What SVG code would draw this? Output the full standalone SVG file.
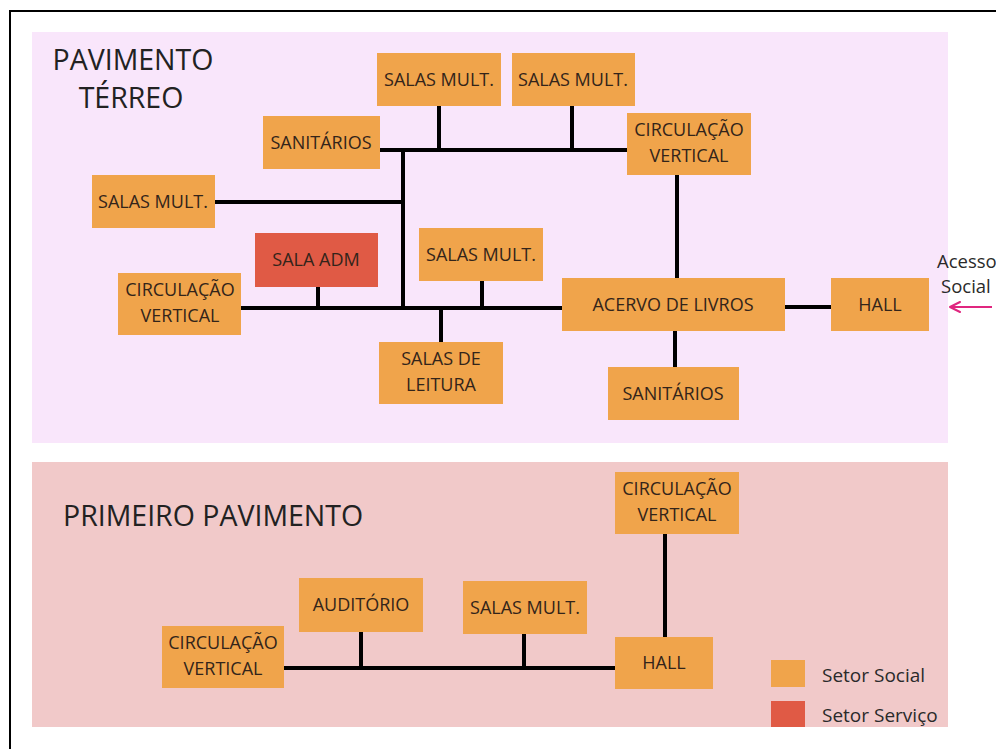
<svg xmlns="http://www.w3.org/2000/svg" width="996" height="749" viewBox="0 0 996 749">
<defs>
<style>
.n rect{fill:#F0A44B;}
.n.s rect{fill:#E05A45;}
.n text,.lbl{font-family:"Open Sans","Noto Sans","DejaVu Sans",sans-serif;font-size:18px;fill:#33241a;text-anchor:middle;}
.title{font-family:"Open Sans","Noto Sans","DejaVu Sans",sans-serif;font-size:28.5px;fill:#222;}
.leg{font-family:"Open Sans","Noto Sans","DejaVu Sans",sans-serif;font-size:19px;fill:#2a2a2a;}
.c line{stroke:#000;stroke-width:4;}
</style>
<marker id="ah" viewBox="0 0 12 12" refX="11" refY="6" markerWidth="12" markerHeight="12" markerUnits="userSpaceOnUse" orient="auto">
<path d="M1,1 L11,6 L1,11" fill="none" stroke="#E0267F" stroke-width="2" stroke-linecap="round" stroke-linejoin="round"/>
</marker>
</defs>
<rect x="0" y="0" width="996" height="749" fill="#fff"/>
<path d="M10,749 V11 H996" fill="none" stroke="#000" stroke-width="2"/>
<rect x="32" y="32" width="916" height="411" fill="#F9E6FB"/>
<rect x="32" y="462" width="916" height="265" fill="#F1C9C9"/>
<text class="title" x="133" y="70" text-anchor="middle">PAVIMENTO</text>
<text class="title" x="131" y="108" text-anchor="middle">TÉRREO</text>
<text class="title" x="63" y="526">PRIMEIRO PAVIMENTO</text>

<g class="c" id="connectors">
<line x1="380" y1="150" x2="627" y2="150"/>
<line x1="439" y1="106" x2="439" y2="150"/>
<line x1="572" y1="106" x2="572" y2="150"/>
<line x1="403" y1="148" x2="403" y2="310"/>
<line x1="215" y1="202" x2="403" y2="202"/>
<line x1="677" y1="175" x2="677" y2="278"/>
<line x1="241" y1="308" x2="562" y2="308"/>
<line x1="318" y1="287" x2="318" y2="308"/>
<line x1="482" y1="281" x2="482" y2="308"/>
<line x1="441" y1="308" x2="441" y2="342"/>
<line x1="785" y1="307" x2="831" y2="307"/>
<line x1="675" y1="331" x2="675" y2="367"/>
<line x1="284" y1="668" x2="615" y2="668"/>
<line x1="361" y1="632" x2="361" y2="668"/>
<line x1="524" y1="634" x2="524" y2="668"/>
<line x1="665" y1="534" x2="665" y2="637"/>
</g>

<g class="n" id="t-salas1"><rect x="377" y="53" width="124" height="53"/><text x="439" y="86">SALAS MULT.</text></g>
<g class="n" id="t-salas2"><rect x="512" y="53" width="123" height="53"/><text x="573" y="86">SALAS MULT.</text></g>
<g class="n" id="t-sanit1"><rect x="263" y="116" width="117" height="53"/><text x="321" y="149">SANITÁRIOS</text></g>
<g class="n" id="t-circ1"><rect x="627" y="113" width="124" height="62"/><text x="689" y="136">CIRCULAÇÃO</text><text x="689" y="162">VERTICAL</text></g>
<g class="n" id="t-salas3"><rect x="92" y="175" width="123" height="53"/><text x="153" y="208">SALAS MULT.</text></g>
<g class="n s" id="t-adm"><rect x="255" y="233" width="123" height="54"/><text x="316" y="266">SALA ADM</text></g>
<g class="n" id="t-salas4"><rect x="419" y="228" width="124" height="53"/><text x="481" y="261">SALAS MULT.</text></g>
<g class="n" id="t-circ2"><rect x="118" y="273" width="123" height="62"/><text x="180" y="296">CIRCULAÇÃO</text><text x="180" y="322">VERTICAL</text></g>
<g class="n" id="t-leitura"><rect x="379" y="342" width="124" height="62"/><text x="441" y="365">SALAS DE</text><text x="441" y="391">LEITURA</text></g>
<g class="n" id="t-acervo"><rect x="562" y="278" width="223" height="53"/><text x="673" y="311">ACERVO DE LIVROS</text></g>
<g class="n" id="t-hall"><rect x="831" y="278" width="98" height="53"/><text x="880" y="311">HALL</text></g>
<g class="n" id="t-sanit2"><rect x="608" y="367" width="131" height="53"/><text x="673" y="400">SANITÁRIOS</text></g>

<g id="acesso">
<text class="lbl" x="937" y="268" style="text-anchor:start;fill:#2a2a2a;font-size:18.5px">Acesso</text>
<text class="lbl" x="941" y="293" style="text-anchor:start;fill:#2a2a2a;font-size:18.5px">Social</text>
<line x1="992" y1="307" x2="950" y2="307" stroke="#E0267F" stroke-width="2" marker-end="url(#ah)"/>
</g>

<g class="n" id="p-circ1"><rect x="615" y="472" width="124" height="62"/><text x="677" y="495">CIRCULAÇÃO</text><text x="677" y="521">VERTICAL</text></g>
<g class="n" id="p-aud"><rect x="299" y="578" width="124" height="54"/><text x="361" y="611">AUDITÓRIO</text></g>
<g class="n" id="p-salas"><rect x="463" y="581" width="124" height="53"/><text x="525" y="614">SALAS MULT.</text></g>
<g class="n" id="p-circ2"><rect x="162" y="626" width="122" height="62"/><text x="223" y="649">CIRCULAÇÃO</text><text x="223" y="675">VERTICAL</text></g>
<g class="n" id="p-hall"><rect x="615" y="637" width="98" height="52"/><text x="664" y="669">HALL</text></g>

<g id="legend">
<rect x="771" y="660" width="34" height="27" fill="#F0A44B"/>
<rect x="771" y="701" width="34" height="26" fill="#E05A45"/>
<text class="leg" x="822" y="682">Setor Social</text>
<text class="leg" x="822" y="722">Setor Serviço</text>
</g>
</svg>
